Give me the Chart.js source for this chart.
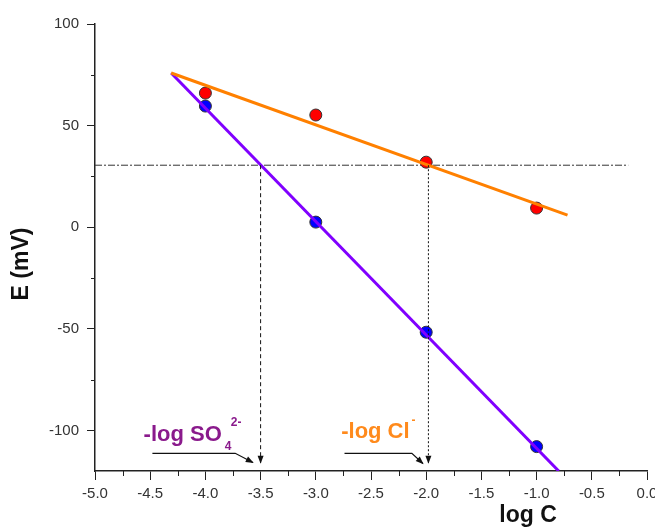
<!DOCTYPE html>
<html>
<head>
<meta charset="utf-8">
<script src="https://cdn.jsdelivr.net/npm/chart.js@4.4.1/dist/chart.umd.min.js"></script>
<style>
  body { margin: 0; background: #fff; }
  canvas { display: block; }
</style>
</head>
<body>
<canvas id="myChart" width="655" height="528"></canvas>
<script>
// measured points
const logC = [-4, -3, -2, -1];
const eCl = [66, 55.2, 32, 9.4];
const eSO4 = [59.6, 2.5, -51.7, -108];

// fitted lines (end points)
const clFitX = [-4.31, -0.72];
const clFitY = [75.9, 5.9];
const so4FitX = [-4.31, -0.80];
const so4FitY = [75.9, -120];

// read-out of the reference potential
const refE = 30.5;
const refLineX = [-5, -0.17];
const so4Cross = -3.5;
const clCross = -1.98;

// leader arrows under the labels
const so4ArrowX = [-4.48, -3.73, -3.57];
const so4ArrowY = [-111.3, -111.3, -115.8];
const clArrowX = [-2.74, -2.13, -2.03];
const clArrowY = [-111.3, -111.3, -116.3];

// axes
const xTicks = [-5, -4.5, -4, -3.5, -3, -2.5, -2, -1.5, -1, -0.5, 0];
const xMinor = [-4.75, -4.25, -3.75, -3.25, -2.75, -2.25, -1.75, -1.25, -0.75, -0.25];
const yTicks = [-100, -50, 0, 50, 100];
const yMinor = [-75, -25, 25, 75];

const pts = (xs, ys) => xs.map((x, i) => ({ x: x, y: ys[i] }));

const FONT = "'Liberation Sans', Arial, sans-serif";

const extras = {
  id: 'extras',
  afterDatasetsDraw(chart) {
    const ctx = chart.ctx;
    const xs = chart.scales.x, ys = chart.scales.y;

    // arrow heads at the end of flagged datasets
    chart.data.datasets.forEach((ds, i) => {
      if (!ds.arrow) return;
      const els = chart.getDatasetMeta(i).data;
      const a = els[els.length - 2], b = els[els.length - 1];
      const ang = Math.atan2(b.y - a.y, b.x - a.x);
      ctx.save();
      ctx.fillStyle = '#111';
      ctx.translate(b.x, b.y);
      ctx.rotate(ang);
      ctx.beginPath();
      ctx.moveTo(1, 0);
      ctx.lineTo(-7, -3);
      ctx.lineTo(-7, 3);
      ctx.closePath();
      ctx.fill();
      ctx.restore();
    });

    // labels with sub/superscripts
    ctx.save();
    ctx.textBaseline = 'alphabetic';
    ctx.textAlign = 'left';
    let x = xs.getPixelForValue(-4.56), y = ys.getPixelForValue(-105);
    ctx.fillStyle = '#8a1a8c';
    ctx.font = 'bold 22px ' + FONT;
    ctx.fillText('-log SO', x, y);
    let w = ctx.measureText('-log SO').width;
    ctx.font = 'bold 12px ' + FONT;
    ctx.fillText('4', x + w + 3, y + 9);
    ctx.fillText('2-', x + w + 9, y - 15);

    x = xs.getPixelForValue(-2.77); y = ys.getPixelForValue(-104);
    ctx.fillStyle = '#ff8a1c';
    ctx.font = 'bold 22px ' + FONT;
    ctx.fillText('-log Cl', x, y);
    w = ctx.measureText('-log Cl').width;
    ctx.font = 'bold 12px ' + FONT;
    ctx.fillText('-', x + w + 2, y - 14);
    ctx.restore();
  },
  afterDraw(chart) {
    const ctx = chart.ctx;
    const xs = chart.scales.x, ys = chart.scales.y;
    ctx.save();
    ctx.strokeStyle = '#222';
    ctx.lineWidth = 1;
    // minor ticks
    xMinor.forEach(v => {
      const p = Math.round(xs.getPixelForValue(v)) + 0.5;
      ctx.beginPath(); ctx.moveTo(p, xs.top); ctx.lineTo(p, xs.top + 5); ctx.stroke();
    });
    yMinor.forEach(v => {
      const p = Math.round(ys.getPixelForValue(v)) + 0.5;
      ctx.beginPath(); ctx.moveTo(ys.right, p); ctx.lineTo(ys.right - 4, p); ctx.stroke();
    });
    // axis titles
    ctx.fillStyle = '#111';
    ctx.font = 'bold 23px ' + FONT;
    ctx.textAlign = 'center';
    ctx.textBaseline = 'middle';
    ctx.fillText('log C', 528, 516);
    ctx.translate(22, 264);
    ctx.rotate(-Math.PI / 2);
    ctx.fillText('E (mV)', 0, 0);
    ctx.restore();
  }
};

const lineSet = (data, color, width, dash, order) => ({
  data: data, showLine: true, borderColor: color, borderWidth: width,
  borderDash: dash, pointRadius: 0, pointHoverRadius: 0, fill: false, order: order
});

const arrowSet = lineSet(pts(so4ArrowX, so4ArrowY), '#111', 1.2, [], 0);
arrowSet.arrow = true;
const arrowSet2 = lineSet(pts(clArrowX, clArrowY), '#111', 1.2, [], 0);
arrowSet2.arrow = true;
const vSo4 = lineSet(pts([so4Cross, so4Cross], [refE, -116]), '#111', 1, [4, 3], 0);
vSo4.arrow = true;
const vCl = lineSet(pts([clCross, clCross], [refE, -116]), '#111', 1, [2, 2], 0);
vCl.arrow = true;

const data = {
  datasets: [
    lineSet(pts(clFitX, clFitY), '#ff8000', 3, [], 1),
    lineSet(pts(so4FitX, so4FitY), '#8000ff', 3, [], 1),
    {
      label: 'Cl-', data: pts(logC, eCl), backgroundColor: '#ff0000',
      borderColor: '#333', borderWidth: 1, pointRadius: 6, order: 2
    },
    {
      label: 'SO4 2-', data: pts(logC, eSO4), backgroundColor: '#0000ff',
      borderColor: '#333', borderWidth: 1, pointRadius: 6, order: 2
    },
    lineSet(pts(refLineX, [refE, refE]), '#333', 1, [7, 2, 2, 2], 3),
    vSo4, vCl, arrowSet, arrowSet2
  ]
};

const tickFont = { family: FONT, size: 15 };

const config = {
  type: 'scatter',
  data,
  options: {
    responsive: false,
    animation: false,
    devicePixelRatio: 1,
    layout: { padding: { left: 0, right: 8, top: 24, bottom: 0 } },
    plugins: { legend: { display: false }, tooltip: { enabled: false } },
    scales: {
      x: {
        type: 'linear', min: -5, max: 0,
        afterBuildTicks: s => { s.ticks = xTicks.map(v => ({ value: v })); },
        afterFit: s => { s.height = 57; s.paddingLeft = 0; s.paddingRight = 0; },
        ticks: { color: '#333', font: tickFont, padding: 5, maxRotation: 0,
          callback: v => v.toFixed(1) },
        grid: { drawOnChartArea: false, tickLength: 9, tickColor: '#222', tickWidth: 1 },
        border: { color: '#222', width: 1.5 }
      },
      y: {
        type: 'linear', min: -120, max: 100,
        afterBuildTicks: s => { s.ticks = yTicks.map(v => ({ value: v })); },
        afterFit: s => { s.width = 95; s.paddingTop = 0; s.paddingBottom = 0; },
        ticks: { color: '#333', font: tickFont, padding: 8 },
        grid: { drawOnChartArea: false, tickLength: 8, tickColor: '#222', tickWidth: 1 },
        border: { color: '#222', width: 1.5 }
      }
    }
  },
  plugins: [extras]
};

const myChart = new Chart(document.getElementById('myChart'), config);
</script>
</body>
</html>
